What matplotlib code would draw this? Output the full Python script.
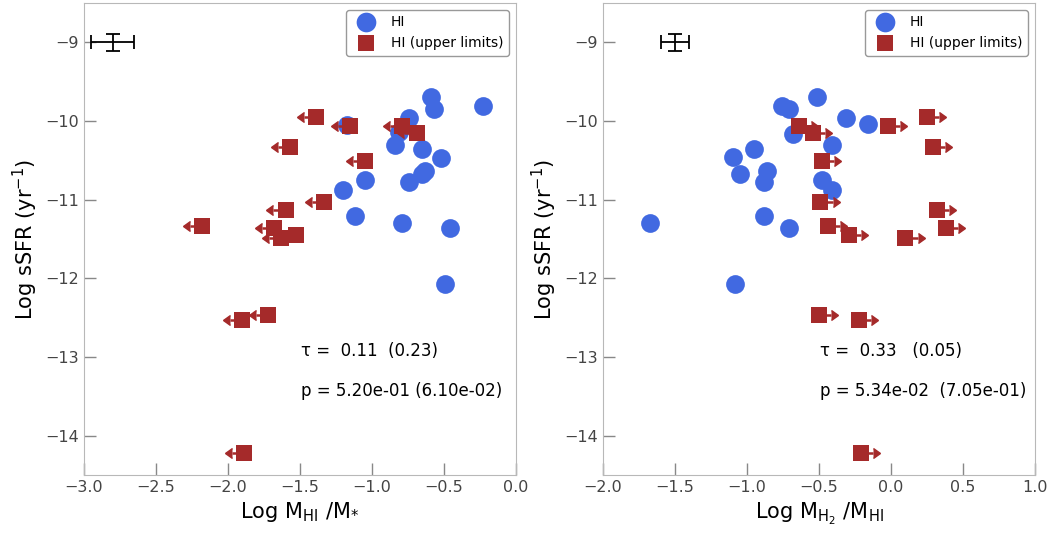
import numpy as np
import matplotlib.pyplot as plt

# left panel: Log MHI/M*  vs  Log sSFR
hi_frac_det = [-0.59, -0.57, -0.23, -0.74, -1.17, -0.81, -0.84, -0.65, -0.52,
               -0.63, -0.65, -1.05, -0.74, -1.20, -1.12, -0.79, -0.46, -0.49]
ssfr_det_l = [-9.69, -9.85, -9.81, -9.96, -10.05, -10.14, -10.30, -10.36, -10.47,
              -10.63, -10.67, -10.75, -10.77, -10.88, -11.21, -11.30, -11.36, -12.07]
hi_frac_lim = [-1.39, -1.15, -0.79, -0.69, -1.57, -1.05, -1.33, -1.60, -2.18,
               -1.68, -1.53, -1.63, -1.72, -1.90, -1.89]
ssfr_lim_l = [-9.95, -10.06, -10.07, -10.15, -10.33, -10.51, -11.03, -11.13, -11.34,
              -11.36, -11.45, -11.49, -12.47, -12.53, -14.22]

# right panel: Log MH2/MHI  vs  Log sSFR
h2_hi_det = [-0.51, -0.76, -0.71, -0.31, -0.16, -0.68, -0.41, -0.95, -1.10,
             -0.86, -1.05, -0.88, -0.48, -0.41, -0.88, -1.67, -0.71, -1.08]
ssfr_det_r = [-9.69, -9.81, -9.85, -9.96, -10.04, -10.16, -10.30, -10.36, -10.46,
              -10.64, -10.67, -10.77, -10.75, -10.88, -11.21, -11.30, -11.36, -12.07]
h2_hi_lim = [0.25, -0.64, -0.02, -0.54, 0.29, -0.48, -0.49, 0.32, -0.44,
             0.38, -0.29, 0.10, -0.50, -0.22, -0.21]
ssfr_lim_r = [-9.95, -10.07, -10.06, -10.15, -10.33, -10.51, -11.03, -11.13, -11.34,
              -11.36, -11.45, -11.49, -12.47, -12.53, -14.22]

stats_l = ["τ =  0.11  (0.23)", "p = 5.20e-01 (6.10e-02)"]
stats_r = ["τ =  0.33   (0.05)", "p = 5.34e-02  (7.05e-01)"]

# typical error bars
err_l = (-2.8, -9.0, 0.15, 0.11)
err_r = (-1.5, -9.0, 0.10, 0.11)

blue = '#4169e1'
red = '#a52a2a'
gray = '#b8b8b8'

fig = plt.figure(figsize=(10.51, 5.33), dpi=100)
ax1 = fig.add_axes([0.0799, 0.1088, 0.411, 0.8856])
ax2 = fig.add_axes([0.5737, 0.1088, 0.411, 0.8856])

def panel(ax, xd, yd, xl, yl, arrow, stats, err, xlim, xlabel):
    ax.plot(xd, yd, 'o', color=blue, ms=13.5, mew=0, label='HI', zorder=3)
    # limit arrows
    kw = dict(xuplims=True) if arrow < 0 else dict(xlolims=True)
    eb = ax.errorbar(xl, yl, xerr=0.085, fmt='none', color=red, ecolor=red,
                     elinewidth=1.8, capsize=3.5, zorder=3.5, **kw)
    for cap in eb[1]:
        cap.set_markerfacecolor(red)
        cap.set_markeredgecolor(red)
    ax.plot(xl, yl, 's', color=red, ms=11, mew=0, label='HI (upper limits)', zorder=4)
    ax.errorbar(err[0], err[1], xerr=err[2], yerr=err[3], fmt='none', ecolor='black',
                elinewidth=1.3, capsize=5, capthick=1.3)
    x0 = xlim[0] + (xlim[1] - xlim[0]) * 0.503
    ax.text(x0, -12.93, stats[0], fontsize=12, va='center')
    ax.text(x0, -13.43, stats[1], fontsize=12, va='center')
    ax.set_xlim(*xlim)
    ax.set_ylim(-14.5, -8.5)
    ax.set_yticks([-14, -13, -12, -11, -10, -9])
    ax.set_xlabel(xlabel, fontsize=15)
    ax.set_ylabel(r"Log sSFR (yr$^{-1}$)", fontsize=15)
    ax.tick_params(direction='in', length=8.5, width=1, color='#888888',
                   labelcolor='#444444', labelsize=11.5, top=False, right=False)
    for s in ax.spines.values():
        s.set_color(gray)
    leg = ax.legend(loc='upper right', fontsize=10, markerscale=1.05,
                    handletextpad=0.8, borderpad=0.4, fancybox=True, framealpha=1)
    leg.get_frame().set_edgecolor('#999999')

panel(ax1, hi_frac_det, ssfr_det_l, hi_frac_lim, ssfr_lim_l, -1, stats_l, err_l,
      (-3.0, 0.0), r"Log $\mathrm{M_{HI}}$ /$\mathrm{M_{*}}$")
ax1.set_xticks(np.arange(-3.0, 0.01, 0.5))
panel(ax2, h2_hi_det, ssfr_det_r, h2_hi_lim, ssfr_lim_r, 1, stats_r, err_r,
      (-2.0, 1.0), r"Log $\mathrm{M_{H_2}}$ /$\mathrm{M_{HI}}$")
ax2.set_xticks(np.arange(-2.0, 1.01, 0.5))

fig.savefig('out.png', dpi=100)
